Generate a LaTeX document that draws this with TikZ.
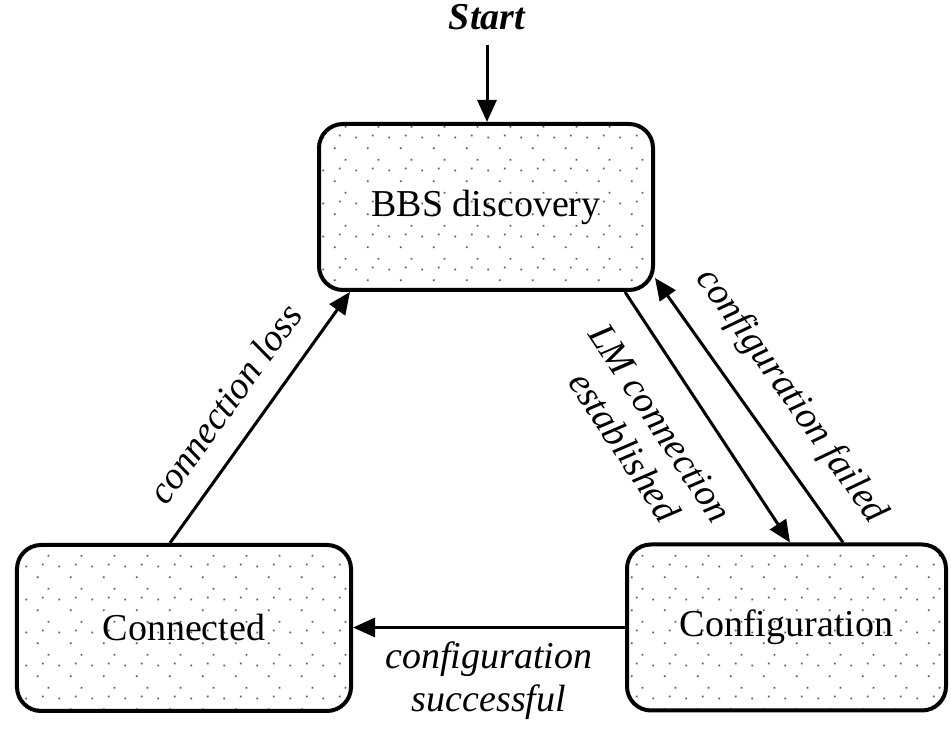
\documentclass[tikz,border=0pt]{standalone}
\usepackage{fontspec}
\setmainfont{Liberation Serif}
\usetikzlibrary{arrows.meta,patterns.meta}

% sparse stipple used as the screen tint inside the state boxes
\pgfdeclarepattern{
  name=stipple,
  type=uncolored,
  bottom left={\pgfpoint{0bp}{0bp}},
  top right={\pgfpoint{33bp}{33bp}},
  tile size={\pgfpoint{33bp}{33bp}},
  code={
    \pgfpathrectangle{\pgfpoint{4bp}{4bp}}{\pgfpoint{1.8bp}{1.8bp}}
    \pgfpathrectangle{\pgfpoint{15bp}{26bp}}{\pgfpoint{1.8bp}{1.8bp}}
    \pgfpathrectangle{\pgfpoint{26bp}{15bp}}{\pgfpoint{1.8bp}{1.8bp}}
    \pgfpathrectangle{\pgfpoint{9bp}{17bp}}{\pgfpoint{1.8bp}{1.8bp}}
    \pgfusepath{fill}
  }
}

\begin{document}
\begin{tikzpicture}[x=1bp,y=1bp,
  state/.style={draw, line width=4bp, rounded corners=24bp,
    pattern=stipple, pattern color=black!65,
    minimum width=334bp, minimum height=166bp, inner sep=0pt,
    font=\fontsize{38bp}{44bp}\selectfont},
  trans/.style={line width=3bp, -{Triangle[length=22bp,width=19bp]}},
  lbl/.style={inner sep=0pt, align=center,
    font=\fontsize{38bp}{43bp}\selectfont\itshape},
  startlbl/.style={inner sep=0pt,
    font=\fontsize{38bp}{44bp}\selectfont\bfseries\itshape}]
\useasboundingbox (0,0) rectangle (951,747);

% states
\node[state] (bbs) at (486,540) {BBS discovery};
\node[state] (con) at (184,119) {Connected};
\node[state, minimum width=319bp] (conf) at (786.5,119.5) {Configuration};
\node[startlbl] (start) at (487,730) {Start};

% transitions
\draw[trans, shorten <=15bp] (start.south) -- (start.south |- bbs.north);

\draw[trans] ([xshift=-14bp]con.north)
  -- node[lbl, sloped, pos=0.47, yshift=37bp] {connection loss}
  ([xshift=-136bp]bbs.south);

\draw[trans] ([xshift=139bp]bbs.south)
  -- node[lbl, sloped, pos=0.43, yshift=-64bp] {LM connection\\established}
  ([xshift=3.5bp]conf.north);

\draw[trans] ([xshift=56.5bp]conf.north)
  -- node[lbl, sloped, pos=0.46, yshift=42bp] {configuration failed}
  ([yshift=-71bp]bbs.east);

\draw[trans] (conf.west)
  -- node[lbl, midway, yshift=-53bp] {configuration\\successful}
  (conf.west -| con.east);
\end{tikzpicture}
\end{document}
